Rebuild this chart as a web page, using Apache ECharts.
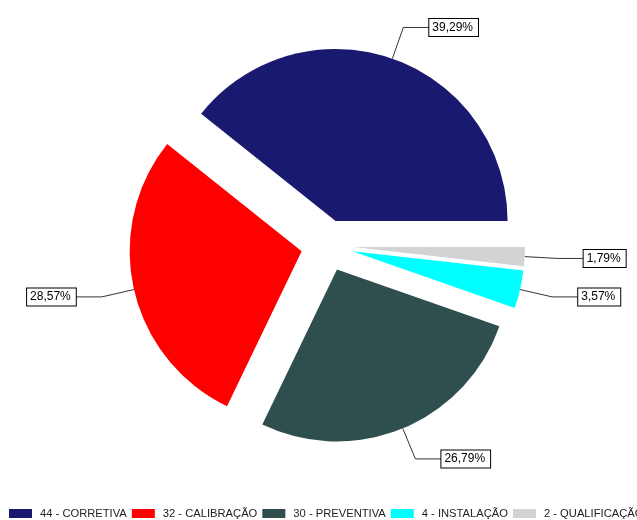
<!DOCTYPE html>
<html>
<head>
<meta charset="utf-8">
<script src="https://cdn.jsdelivr.net/npm/echarts@6/dist/echarts.min.js"></script>
<style>
  html, body { margin: 0; padding: 0; background: #ffffff; }
  #chart { width: 637px; height: 520px; }
</style>
</head>
<body>
<div id="chart"></div>
<script>
// Service orders by type
const categories = ['CORRETIVA', 'CALIBRAÇÃO', 'PREVENTIVA', 'INSTALAÇÃO', 'QUALIFICAÇÃO'];
const counts = [44, 32, 30, 4, 2];
const colors = ['#191970', '#ff0000', '#2f4f4f', '#00ffff', '#d3d3d3'];

const total = counts.reduce((a, b) => a + b, 0);

const seriesData = categories.map((c, i) => ({
  name: counts[i] + ' - ' + c,
  value: counts[i],
  selected: true,
  itemStyle: { color: colors[i] }
}));

const chart = echarts.init(document.getElementById('chart'), null, { renderer: 'canvas' });

chart.setOption({
  animation: false,
  backgroundColor: '#ffffff',
  legend: {
    left: 9,
    top: 508,
    width: 1200,
    padding: 0,
    orient: 'horizontal',
    icon: 'rect',
    itemWidth: 23,
    itemHeight: 9,
    itemGap: 5,
    selectedMode: false,
    textStyle: {
      fontFamily: 'Liberation Sans, Arial, sans-serif',
      fontSize: 11.2,
      color: '#222222',
      padding: [0, 0, 0, 3]
    },
    data: seriesData.map(d => d.name)
  },
  series: [{
    type: 'pie',
    center: [327, 245.5],
    radius: 172,
    startAngle: 0,
    clockwise: false,
    selectedMode: 'multiple',
    selectedOffset: 26,
    avoidLabelOverlap: false,
    silent: true,
    select: { itemStyle: { borderWidth: 0 } },
    label: {
      show: true,
      position: 'outside',
      distanceToLabelLine: 0,
      // percentage of the total, with a decimal comma
      formatter: p => (p.value / total * 100).toFixed(2).replace('.', ',') + '%',
      fontFamily: 'Liberation Sans, Arial, sans-serif',
      fontSize: 12,
      lineHeight: 13,
      color: '#000000',
      backgroundColor: '#ffffff',
      borderColor: '#000000',
      borderWidth: 1,
      padding: [2, 5, 2, 3]
    },
    labelLine: {
      show: true,
      length: 33,
      length2: 26,
      lineStyle: { color: '#333333', width: 1 }
    },
    data: seriesData
  }]
});
</script>
</body>
</html>
